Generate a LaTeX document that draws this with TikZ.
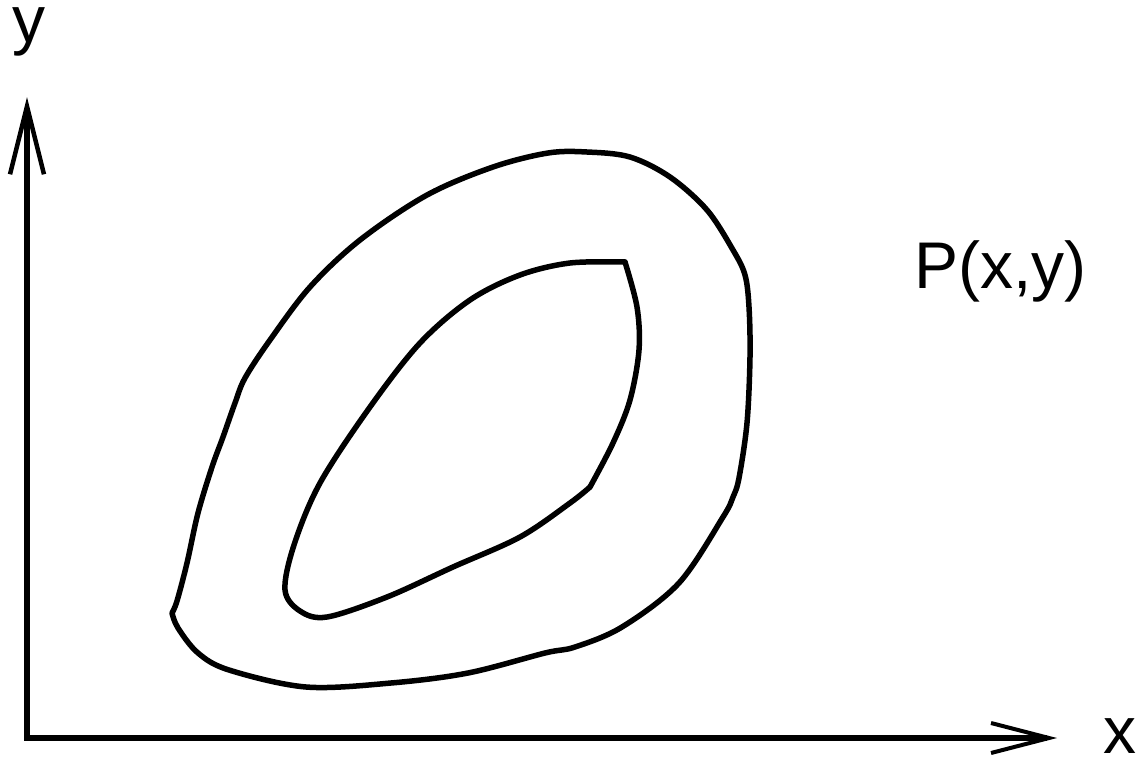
\documentclass[tikz,border=0pt]{standalone}
\usepackage{fontspec}
\setmainfont{Liberation Sans}
\usetikzlibrary{arrows.meta}
\begin{document}
\begin{tikzpicture}[x=1pt,y=-1pt,
  curve/.style={line width=5.5pt,line join=round,line cap=round},
  axis/.style={line width=5.5pt},
  lbl/.style={font=\fontsize{66}{66}\selectfont,inner sep=0pt,anchor=base west}]
\useasboundingbox (0,0) rectangle (1141,761);
% axes
\coordinate (o) at (27,738);
\coordinate (ytip) at (27,97);
\coordinate (xtip) at (1057,738);
\draw[axis,-{Straight Barb[length=68pt,width=34pt,line width=4.5pt]}] (27,740.5) -- (ytip);
\draw[axis,-{Straight Barb[length=58pt,width=30pt,line width=4pt]}] (24.5,738) -- (xtip);
\node[lbl] (ylab) at (12,42) {y};
\node[lbl] (xlab) at (1103,753) {x};
\node[lbl] (plab) at (914,288) {P(x,y)};
% outer curve
\draw[curve] plot[smooth,tension=0.55] coordinates {
(172,613) (177,601) (187,563) (198,513) (212,467) (223,437) (235,403) (245,378)
(270,340) (310,287) (360,240) (427,195) (493,167) (548,153) (587,152) (630,157)
(670,177) (707,210) (733,250) (745,275) (749,307) (750,357) (747,423) (739,478)
(733,497) (723,517) (679,583) (622,627) (575,647) (545,653) (468,673) (391,683)
(306,687) (229,670) (198,653) (178,628) (172,613)};
% inner curve
\draw[curve] plot[smooth,tension=0.55] coordinates {
(625,262) (570,263) (520,275) (470,300) (420,343) (370,407) (320,483) (294,545)
(285,590) (300,611) (327,617) (387,597) (453,567) (520,537) (570,503) (590,487)};
\draw[curve] plot[smooth,tension=0.55] coordinates {
(590,487) (613,443) (630,400) (639,350) (637,307) (625,262)};
\end{tikzpicture}
\end{document}
